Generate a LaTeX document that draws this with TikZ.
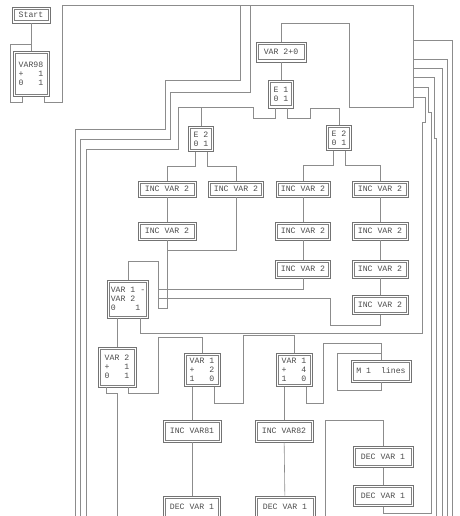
\documentclass[tikz,border=0pt]{standalone}
\usepackage{fontspec}
\setmonofont{Liberation Mono}
\tikzset{
    blk/.style={rectangle, draw=black!55, line width=0.7pt, inner sep=1pt, align=left, text=black!70, font=\ttfamily\fontsize{8.2}{9}\selectfont,
        path picture={\draw [black!50, line width=0.6pt] ([shift={(2.2pt,-2.2pt)}]path picture bounding box.north west) rectangle ([shift={(-2.2pt,2.2pt)}]path picture bounding box.south east);}},
    wire/.style={draw=black!45, line width=0.6pt}
}
\begin{document}
\begin{tikzpicture}[x=1pt, y=-1pt]
            \useasboundingbox (0,0) rectangle (459,516);
            \node [blk, minimum width=38, minimum height=16] (start) at (31,15) {Start};
            \node [blk, minimum width=36, minimum height=45] (var98) at (31,74) {VAR98\\+~~~1\\0~~~1};
            \node [blk, minimum width=50, minimum height=20] (vartwozero) at (281,52) {VAR 2+0};
            \node [blk, minimum width=25, minimum height=28] (eone) at (281,94) {E 1\\0 1};
            \node [blk, minimum width=25, minimum height=25] (etwoL) at (201,139) {E 2\\0 1};
            \node [blk, minimum width=25, minimum height=25] (etwoR) at (339,138) {E 2\\0 1};
            \node [blk, minimum width=58, minimum height=16] (incLa) at (167,189) {INC VAR 2};
            \node [blk, minimum width=55, minimum height=16] (incLL) at (236,189) {INC VAR 2};
            \node [blk, minimum width=54, minimum height=16] (incRa) at (303,189) {INC VAR 2};
            \node [blk, minimum width=56, minimum height=16] (incSa) at (380,189) {INC VAR 2};
            \node [blk, minimum width=58, minimum height=18] (incLb) at (167,231) {INC VAR 2};
            \node [blk, minimum width=55, minimum height=18] (incRb) at (303,231) {INC VAR 2};
            \node [blk, minimum width=55, minimum height=18] (incRc) at (303,269) {INC VAR 2};
            \node [blk, minimum width=56, minimum height=18] (incSb) at (380,231) {INC VAR 2};
            \node [blk, minimum width=56, minimum height=18] (incSc) at (380,269) {INC VAR 2};
            \node [blk, minimum width=56, minimum height=19] (incSd) at (380,305) {INC VAR 2};
            \node [blk, minimum width=41, minimum height=38] (cmp) at (128,299) {VAR 1~-\\VAR 2\\0~~~~1};
            \node [blk, minimum width=38, minimum height=40] (vartwo) at (117,367) {VAR 2\\+~~~1\\0~~~1};
            \node [blk, minimum width=36, minimum height=33] (varoneA) at (202,370) {VAR 1\\+~~~2\\1~~~0};
            \node [blk, minimum width=36, minimum height=33] (varoneB) at (294,370) {VAR 1\\+~~~4\\1~~~0};
            \node [blk, minimum width=60, minimum height=22] (mlines) at (381,371) {M 1~~lines};
            \node [blk, minimum width=58, minimum height=22] (inceightone) at (192,431) {INC VAR81};
            \node [blk, minimum width=58, minimum height=22] (inceighttwo) at (284,431) {INC VAR82};
            \node [blk, minimum width=57, minimum height=22] (decA) at (192,507) {DEC VAR 1};
            \node [blk, minimum width=60, minimum height=22] (decB) at (285,507) {DEC VAR 1};
            \node [blk, minimum width=60, minimum height=21] (decC) at (383,457) {DEC VAR 1};
            \node [blk, minimum width=60, minimum height=21] (decD) at (383,496) {DEC VAR 1};
            \draw [wire] (start) -- (var98);
            \draw [wire] ([xshift=-9]var98.south) |- (10,102) |- (31,44);
            \draw [wire] ([xshift=13]var98.south) |- (62,102) |- (413,5) |- (349,107) |- (281,23) -- (vartwozero.north);
            \draw [wire] (vartwozero) -- (eone);
            \draw [wire] ([xshift=-6]eone.south) |- (253,118) |- (201,107) -- (etwoL.north);
            \draw [wire] ([xshift=6]eone.south) |- (310,118) |- (339,108) -- (etwoR.north);
            \draw [wire] ([xshift=-6]etwoL.south) -- ++(0,14) -| (incLa.north);
            \draw [wire] ([xshift=6]etwoL.south) -- ++(0,14) -| (incLL.north);
            \draw [wire] ([xshift=-6]etwoR.south) -- ++(0,14) -| (incRa.north);
            \draw [wire] ([xshift=6]etwoR.south) -- ++(0,14) -| (incSa.north);
            \draw [wire] (incLa) -- (incLb);
            \draw [wire] (incRa) -- (incRb);
            \draw [wire] (incRb) -- (incRc);
            \draw [wire] (incSa) -- (incSb);
            \draw [wire] (incSb) -- (incSc);
            \draw [wire] (incSc) -- (incSd);
            \draw [wire] (incLb.south) -- (167,308) -| (158,261) -| (cmp.north);
            \draw [wire] (incLL.south) |- (167,250);
            \draw [wire] (incRc.south) |- (158,289);
            \draw [wire] (incSd.south) |- (330,325) |- (158,298);
            \draw [wire] ([xshift=-11]cmp.south) -- (vartwo.north);
            \draw [wire] ([xshift=12]cmp.south) |- (422,333) |- (425,122) |- (413,97);
            \draw [wire] ([xshift=-11]vartwo.south) |- (117,393) -- (117,516);
            \draw [wire] ([xshift=11]vartwo.south) |- (158,393) |- (202,337) -- (varoneA.north);
            \draw [wire] ([xshift=-10]varoneA.south) -- (inceightone.north);
            \draw [wire] ([xshift=12]varoneA.south) |- (243,403) |- (294,335) -- (varoneB.north);
            \draw [wire] ([xshift=-10]varoneB.south) -- (inceighttwo.north);
            \draw [wire] ([xshift=12]varoneB.south) |- (323,403) |- (381,343) -- (mlines.north);
            \draw [wire] (mlines.south) |- (337,390) |- (381,353);
            \draw [wire] (inceightone) -- (decA);
            \draw [wire] (inceighttwo) -- (decB);
            \draw [wire] (decC) -- (decD);
            \draw [wire] (325,516) |- (383,420) -- (decC.north);
            \draw [wire] (decD.south) |- (431,513) |- (428,112) |- (413,87);
            \draw [wire] (436,516) |- (434,138) |- (413,77);
            \draw [wire] (442,516) -- (442,68) -- (413,68);
            \draw [wire] (447,516) -- (447,59) -- (413,59);
            \draw [wire] (452,516) -- (452,40) -- (413,40);
            \draw [wire] (75,516) |- (165,129) |- (240,80) -- (240,5);
            \draw [wire] (80,516) |- (170,139) |- (250,92) -- (250,5);
            \draw [wire] (86,516) |- (178,149) |- (201,107);
\end{tikzpicture}
\end{document}
